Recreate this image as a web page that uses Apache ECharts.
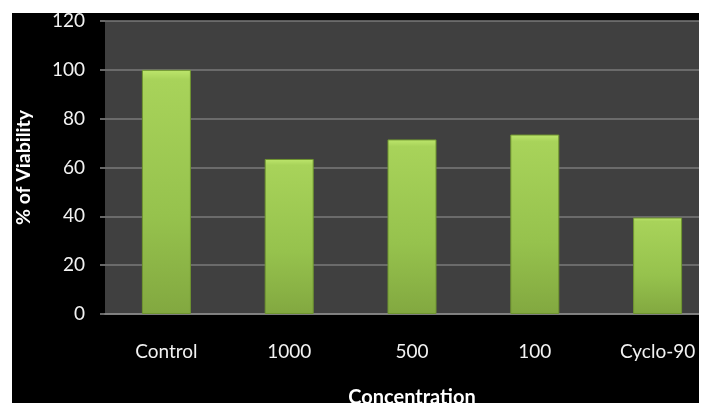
<!DOCTYPE html>
<html>
<head>
<meta charset="utf-8">
<script src="https://cdn.jsdelivr.net/npm/echarts@6/dist/echarts.min.js"></script>
<style>
  html, body { margin: 0; padding: 0; background: #fff; }
  #chart { position: absolute; left: 12px; top: 13px; width: 687px; height: 390px; background: #000; }
</style>
</head>
<body>
<div id="chart"></div>
<script>
// 数据
const categories = ['Control', '1000', '500', '100', 'Cyclo-90']
const viability = [100, 63.5, 71.5, 73.5, 39.5]
const yTicks = [0, 20, 40, 60, 80, 100, 120]

const chart = echarts.init(document.getElementById('chart'))
const font = 'Lato, "Open Sans", sans-serif'

chart.setOption({
  backgroundColor: '#000',
  animation: false,
  grid: {
    left: 93, top: 8, width: 614, height: 293,
    outerBoundsMode: 'none', containLabel: false,
    backgroundColor: '#404040', show: true, borderWidth: 0,
  },
  xAxis: {
    type: 'category',
    data: categories,
    name: 'Concentration',
    nameLocation: 'middle',
    nameGap: 74,
    nameTextStyle: { color: '#fff', fontSize: 20, fontWeight: 'bold', fontFamily: font },
    axisLine: { lineStyle: { color: '#8a8a8a', width: 1.5 } },
    axisTick: { show: false },
    axisLabel: { color: '#f2f2f2', fontSize: 19, fontFamily: font, margin: 28 },
  },
  yAxis: {
    type: 'value',
    min: yTicks[0],
    max: yTicks[yTicks.length - 1],
    interval: 20,
    name: '% of Viability',
    nameLocation: 'middle',
    nameGap: 71,
    nameTextStyle: { color: '#fff', fontSize: 19.5, fontWeight: 'bold', fontFamily: font },
    axisLine: { show: false },
    axisTick: { show: true, length: 5, lineStyle: { color: '#8a8a8a', width: 1.5 } },
    axisLabel: { color: '#f2f2f2', fontSize: 19, fontFamily: font, margin: 20 },
    splitLine: { lineStyle: { color: '#7a7a7a', width: 1.5 } },
  },
  series: [{
    type: 'bar',
    data: viability,
    barWidth: 49,
    itemStyle: {
      color: new echarts.graphic.LinearGradient(0, 0, 0, 1, [
        { offset: 0, color: '#bde66c' },
        { offset: 0.04, color: '#a8d35a' },
        { offset: 0.6, color: '#96c24d' },
        { offset: 1, color: '#82a840' },
      ]),
      borderColor: '#6f9530',
      borderWidth: 1,
    },
  }],
})
</script>
</body>
</html>
